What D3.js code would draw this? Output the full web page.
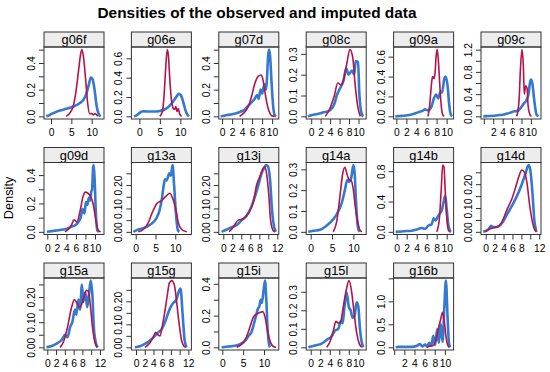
<!DOCTYPE html>
<html>
<head>
<meta charset="utf-8">
<script src="https://cdn.jsdelivr.net/npm/d3@7"></script>
<style>
body { margin: 0; background: #fff; }
svg text { font-family: "Liberation Sans", Arial, Helvetica, sans-serif; fill: #000; }
</style>
</head>
<body>
<div id="container"></div>
<script>
// panel order: left to right, top to bottom
const panelNames = ["g06f", "g06e", "g07d", "g08c", "g09a", "g09c",
    "g09d", "g13a", "g13j", "g14a", "g14b", "g14d",
    "g15a", "g15g", "g15i", "g15l", "g16b"];

const xDomains = [[-1.72, 13.02], [-1.95, 12.7], [-0.66, 11.34], [-1.06, 11.63], [-0.54, 11.38], [-0.6, 12.15],
    [-0.69, 11.89], [-1.09, 14.07], [-1.0, 12.33], [-1.05, 13.0], [-0.62, 11.38], [-1.05, 12.4],
    [-0.75, 12.92], [-1.06, 12.7], [-0.84, 13.55], [-0.95, 11.66], [-0.12, 11.72]];

const t5 = [0, 5, 10], t2 = [0, 2, 4, 6, 8, 10], t12 = [0, 2, 4, 6, 8, 10, 12];
const xTicks = [t5, t5, t2, t2, t2, t2, t2, t5, t12, t5, t2, t12, t12, t12, t5, t2, t2];
const l5 = ["0", "5", "10"], l2 = ["0", "2", "4", "6", "8", "10"], l12 = ["0", "2", "4", "6", "8", "", "12"];
const xTickLabels = [l5, l5, l2, l2, l2, ["", "2", "4", "6", "8", "10"], l2, l5, l12, l5, l2, l12, l12, l12, l5, l2,
    ["", "2", "4", "6", "8", "10"]];

const yTicks = [
    [0, 0.1, 0.2, 0.3, 0.4, 0.5], [0, 0.2, 0.4, 0.6], [0, 0.1, 0.2, 0.3, 0.4, 0.5], [0, 0.1, 0.2, 0.3],
    [0, 0.2, 0.4, 0.6], [0, 0.2, 0.4, 0.6, 0.8, 1.0, 1.2],
    [0, 0.1, 0.2, 0.3, 0.4], [0, 0.05, 0.1, 0.15, 0.2, 0.25], [0, 0.05, 0.1, 0.15, 0.2, 0.25], [0, 0.1, 0.2, 0.3],
    [0, 0.2, 0.4, 0.6, 0.8], [0, 0.05, 0.1, 0.15, 0.2, 0.25],
    [0, 0.05, 0.1, 0.15, 0.2, 0.25], [0, 0.05, 0.1, 0.15, 0.2, 0.25], [0, 0.1, 0.2, 0.3, 0.4], [0, 0.1, 0.2, 0.3],
    [0, 0.5, 1.0, 1.5]];
const yTickLabels = [
    ["0.0", "", "0.2", "", "0.4", ""], ["0.0", "0.2", "0.4", "0.6"], ["0.0", "", "0.2", "", "0.4", ""], ["0.0", "0.1", "0.2", "0.3"],
    ["0.0", "0.2", "0.4", "0.6"], ["0.0", "", "0.4", "", "0.8", "", "1.2"],
    ["0.0", "", "0.2", "", "0.4"], ["0.00", "", "0.10", "", "0.20", ""], ["0.00", "", "0.10", "", "0.20", ""], ["0.0", "0.1", "0.2", "0.3"],
    ["0.0", "", "0.4", "", "0.8"], ["0.00", "", "0.10", "", "0.20", ""],
    ["0.00", "", "0.10", "", "0.20", ""], ["0.00", "", "0.10", "", "0.20", ""], ["0.0", "", "0.2", "", "0.4"], ["0.0", "0.1", "0.2", "0.3"],
    ["0.0", "0.5", "1.0", ""]];

// observed data densities (blue), [x, density]
const observed = [
    [[-1.15,0],[-0.6,0.006],[0,0.016],[1,0.03],[2,0.042],[3,0.05],[4,0.058],[5,0.068],[6,0.08],[7,0.098],[8,0.125],[8.7,0.17],[9.3,0.24],[9.8,0.29],[10.2,0.28],[10.7,0.2],[11.2,0.08],[11.7,0.02],[12.2,0]],
    [[-1.3,0],[-0.7,0.01],[-0.1,0.03],[0.5,0.048],[1,0.052],[2,0.05],[3,0.05],[4,0.05],[5,0.055],[6,0.068],[7,0.095],[8,0.14],[9,0.2],[9.6,0.233],[10.1,0.22],[10.7,0.15],[11.2,0.07],[11.7,0.02],[12.1,0]],
    [[-0.3,0],[0.5,0.005],[1,0.01],[2,0.015],[3,0.025],[4,0.04],[4.5,0.05],[5,0.07],[5.5,0.09],[6,0.11],[6.5,0.13],[7,0.16],[7.3,0.13],[7.7,0.2],[8,0.17],[8.3,0.22],[8.6,0.24],[8.8,0.2],[9.0,0.3],[9.2,0.45],[9.4,0.5],[9.6,0.45],[9.9,0.25],[10.2,0.08],[10.5,0.01],[10.8,0]],
    [[-0.7,0],[0,0.005],[1,0.01],[2,0.015],[2.6,0.02],[3.3,0.022],[4.0,0.03],[4.9,0.06],[5.4,0.1],[6.0,0.13],[6.8,0.17],[7.4,0.23],[7.9,0.2],[8.6,0.22],[9.1,0.2],[9.4,0.265],[9.9,0.26],[10.2,0.1],[10.7,0.01],[11.0,0]],
    [[-0.2,0],[1,0.005],[2.3,0.01],[3.5,0.025],[4.3,0.04],[5.2,0.055],[5.7,0.07],[6.3,0.06],[7.0,0.1],[7.4,0.17],[7.9,0.22],[8.3,0.18],[8.8,0.25],[9.1,0.24],[9.5,0.37],[9.8,0.4],[10.2,0.3],[10.5,0.12],[10.8,0.02],[11.1,0]],
    [[-0.1,0],[1,0.005],[2,0.01],[3,0.02],[4,0.03],[5,0.05],[5.9,0.075],[6.6,0.09],[7.3,0.1],[7.9,0.16],[8.4,0.22],[9.1,0.3],[9.5,0.4],[9.8,0.6],[10.0,0.66],[10.3,0.6],[10.7,0.3],[11.2,0.03],[11.6,0]],
    [[-0.1,0],[1,0.005],[2,0.01],[3,0.015],[4,0.02],[5,0.035],[6,0.05],[6.5,0.07],[7,0.1],[7.4,0.16],[7.8,0.13],[8.1,0.21],[8.4,0.19],[8.7,0.24],[9.0,0.22],[9.2,0.28],[9.4,0.3],[9.6,0.45],[9.75,0.47],[9.95,0.35],[10.2,0.12],[10.5,0.01],[10.8,0]],
    [[-0.6,0],[0.65,0.01],[1.9,0.015],[3.6,0.03],[5.3,0.06],[6.0,0.09],[6.6,0.14],[7.0,0.19],[7.4,0.225],[7.8,0.22],[8.5,0.25],[8.9,0.24],[9.3,0.285],[9.7,0.2],[10.2,0.07],[10.6,0.01],[11,0]],
    [[-0.35,0],[0.75,0.01],[1.9,0.02],[3.0,0.03],[4.1,0.05],[5.2,0.07],[6.3,0.11],[7.0,0.15],[7.8,0.2],[8.5,0.25],[9.0,0.27],[9.5,0.285],[9.9,0.28],[10.4,0.22],[10.8,0.1],[11.3,0.02],[11.7,0]],
    [[-0.55,0],[0.6,0.005],[2.2,0.01],[3.75,0.03],[5.3,0.06],[6.5,0.1],[7.3,0.14],[8.0,0.2],[8.6,0.25],[9.0,0.24],[9.5,0.26],[10.0,0.32],[10.3,0.28],[10.6,0.15],[11.0,0.03],[11.4,0]],
    [[-0.2,0],[1,0.005],[2,0.01],[3,0.015],[4,0.03],[5.0,0.05],[5.7,0.04],[6.3,0.08],[7.0,0.1],[7.4,0.18],[7.8,0.15],[8.2,0.2],[8.7,0.25],[9.0,0.28],[9.4,0.4],[9.7,0.48],[10.0,0.3],[10.3,0.1],[10.7,0.01],[10.9,0]],
    [[-0.55,0],[0.6,0.01],[1.2,0.025],[1.7,0.02],[2.5,0.02],[3.6,0.035],[4.7,0.07],[5.9,0.11],[7.0,0.15],[8.1,0.2],[8.85,0.24],[9.6,0.28],[10.0,0.26],[10.5,0.16],[10.9,0.05],[11.4,0]],
    [[-0.2,0],[1.0,0.005],[2.1,0.015],[3.3,0.03],[4.05,0.05],[4.6,0.04],[5.2,0.08],[5.7,0.1],[6.3,0.15],[6.6,0.13],[7.1,0.19],[7.45,0.15],[7.9,0.25],[8.2,0.18],[8.65,0.22],[9.1,0.16],[9.55,0.22],[9.9,0.265],[10.3,0.2],[10.6,0.08],[11.1,0.015],[11.5,0]],
    [[-0.25,0],[0.9,0.005],[2.05,0.015],[3.2,0.03],[4.35,0.05],[5.1,0.065],[5.9,0.08],[6.65,0.11],[7.2,0.14],[7.8,0.17],[8.4,0.19],[8.95,0.2],[9.3,0.21],[9.75,0.24],[10.2,0.256],[10.7,0.14],[11.15,0.03],[11.6,0]],
    [[-0.15,0],[1.45,0.005],[3.05,0.01],[4.25,0.02],[5.45,0.04],[6.25,0.07],[7.05,0.1],[7.6,0.15],[8.1,0.2],[8.5,0.24],[8.9,0.26],[9.2,0.3],[9.5,0.28],[9.9,0.36],[10.25,0.42],[10.55,0.3],[10.9,0.1],[11.2,0.02],[11.45,0]],
    [[-0.5,0],[0.9,0.01],[2.3,0.02],[3.35,0.04],[4.4,0.06],[5.1,0.09],[5.8,0.1],[6.3,0.14],[6.7,0.13],[7.1,0.22],[7.55,0.296],[8.0,0.22],[8.4,0.2],[8.8,0.16],[9.2,0.17],[9.65,0.243],[10.0,0.22],[10.35,0.1],[10.7,0.03],[11.05,0]],
    [[0.3,0],[0.8,0.01],[2.1,0.01],[3.45,0.01],[4.4,0.03],[5.1,0.07],[5.55,0.02],[6.1,0.06],[6.5,0.02],[6.9,0.1],[7.3,0.03],[7.7,0.25],[8.05,0.05],[8.5,0.4],[8.8,0.1],[9.2,0.5],[9.55,0.12],[9.9,0.9],[10.2,1.45],[10.55,0.6],[10.8,0.1],[11.05,0]]
];

// imputed data densities (red), [x, density]
const imputed = [
    [[3.7,0],[4.5,0.02],[5.5,0.08],[6.2,0.2],[6.8,0.35],[7.3,0.47],[7.6,0.5],[8.0,0.44],[8.5,0.28],[9.0,0.1],[9.5,0.02],[10.0,0.02],[10.4,0.01],[10.8,0.02],[11.5,0]],
    [[5.0,0],[5.6,0.05],[6.0,0.2],[6.4,0.48],[6.8,0.69],[7.1,0.62],[7.4,0.4],[7.8,0.18],[8.2,0.09],[8.6,0.07],[8.9,0.1],[9.2,0.05],[9.5,0.08],[9.8,0.03],[10.3,0]],
    [[3.5,0],[4.2,0.02],[4.9,0.05],[5.5,0.1],[5.9,0.15],[6.5,0.24],[7.2,0.30],[7.8,0.31],[8.2,0.27],[8.5,0.2],[8.9,0.11],[9.2,0.06],[9.6,0.02],[9.9,0.005],[10.5,0]],
    [[3.0,0],[4.0,0.04],[4.9,0.1],[5.6,0.16],[6.3,0.15],[6.8,0.17],[7.5,0.25],[8.2,0.32],[8.8,0.28],[9.3,0.15],[9.9,0.04],[10.4,0]],
    [[6.3,0],[6.6,0.1],[7.0,0.33],[7.2,0.4],[7.5,0.38],[7.7,0.44],[7.9,0.6],[8.1,0.67],[8.3,0.6],[8.6,0.35],[8.9,0.12],[9.2,0.02],[9.5,0]],
    [[7.0,0],[7.5,0.3],[7.75,0.8],[8.1,1.2],[8.4,0.9],[8.6,0.4],[8.9,0.55],[9.2,0.5],[9.4,0.2],[9.8,0.03],[10.1,0]],
    [[3.7,0],[4.5,0.02],[5.1,0.05],[5.6,0.085],[6.2,0.07],[6.9,0.15],[7.5,0.25],[8.0,0.28],[8.9,0.26],[9.6,0.2],[10.2,0.08],[10.7,0.01],[11.2,0]],
    [[0.65,0],[1.9,0.01],[3.2,0.04],[4.0,0.075],[5.3,0.12],[6.6,0.135],[7.8,0.155],[8.6,0.165],[9.3,0.145],[10.2,0.09],[10.75,0.04],[11.6,0.01],[12.9,0]],
    [[1.3,0],[2.2,0.02],[3.3,0.05],[4.4,0.055],[5.6,0.08],[6.7,0.13],[7.4,0.2],[8.2,0.24],[8.8,0.27],[9.2,0.278],[9.6,0.25],[10.1,0.16],[10.5,0.05],[11.1,0.005],[11.5,0]],
    [[5.3,0],[6.1,0.05],[6.9,0.18],[7.5,0.28],[8.0,0.31],[8.6,0.27],[9.0,0.25],[9.5,0.245],[10.0,0.2],[10.45,0.12],[11.0,0.05],[11.5,0.01],[12,0]],
    [[8.0,0],[8.5,0.15],[8.9,0.55],[9.2,0.88],[9.45,0.86],[9.7,0.55],[10.0,0.2],[10.3,0.03],[10.6,0]],
    [[-0.15,0],[0.6,0.01],[1.35,0.015],[2.5,0.02],[3.6,0.04],[4.7,0.09],[5.9,0.14],[6.6,0.18],[7.4,0.23],[8.1,0.26],[8.7,0.25],[9.3,0.2],[9.8,0.12],[10.5,0.04],[11.1,0.005],[11.4,0]],
    [[2.9,0],[3.65,0.02],[4.6,0.08],[5.55,0.16],[6.15,0.19],[6.6,0.18],[7.3,0.16],[7.8,0.17],[8.35,0.2],[8.96,0.227],[9.4,0.22],[9.85,0.16],[10.3,0.08],[10.85,0.02],[11.4,0]],
    [[2.05,0],[3.2,0.02],[3.97,0.045],[4.5,0.065],[4.95,0.055],[5.5,0.05],[6.1,0.1],[6.65,0.16],[7.2,0.23],[7.65,0.28],[8.2,0.29],[8.8,0.27],[9.3,0.2],[9.9,0.1],[10.45,0.03],[11.0,0.005],[11.4,0]],
    [[3.45,0],[4.65,0.02],[5.7,0.06],[6.65,0.13],[7.45,0.19],[8.25,0.21],[9.05,0.22],[9.7,0.225],[10.25,0.19],[10.8,0.11],[11.45,0.04],[12.25,0.005],[12.9,0]],
    [[3.35,0],[4.05,0.03],[4.75,0.09],[5.3,0.14],[5.8,0.13],[6.3,0.14],[6.85,0.22],[7.4,0.3],[8.05,0.36],[8.6,0.3],[9.1,0.19],[9.65,0.08],[10.2,0.02],[10.7,0]],
    [[6.4,0],[7.05,0.03],[7.7,0.04],[8.2,0.15],[8.7,0.4],[9.15,0.6],[9.55,0.76],[9.9,0.55],[10.2,0.25],[10.55,0.05],[10.85,0]]
];

function chart() {
    var width = 550, height = 372;
    var left0 = 44, colStep = 87.4, top0 = 32, rowStep = 115.5;
    var pw = 60, ph = 72, stripH = 15;
    var ink = "#333";

    const svg = d3.select("div#container").append("svg")
        .attr("width", width)
        .attr("height", height);

    svg.append("text")
        .attr("x", 257)
        .attr("y", 18)
        .attr("text-anchor", "middle")
        .style("font-size", "15.4px")
        .style("font-weight", "bold")
        .text("Densities of the observed and imputed data");

    svg.append("text")
        .attr("transform", "translate(13,198) rotate(-90)")
        .attr("text-anchor", "middle")
        .style("font-size", "12.8px")
        .text("Density");

    const defs = svg.append("defs");

    panelNames.forEach((name, i) => {
        var col = i % 6, row = Math.floor(i / 6);
        var x0 = left0 + col * colStep;
        var y0 = top0 + row * rowStep + stripH;

        const all = observed[i].concat(imputed[i]);
        const ymax = d3.max(all, d => d[1]);

        const x = d3.scaleLinear().domain(xDomains[i]).range([x0, x0 + pw]);
        const y = d3.scaleLinear().domain([-0.04 * ymax, 1.04 * ymax]).range([y0 + ph, y0]);

        const g = svg.append("g").attr("class", "panel");

        // strip
        g.append("rect")
            .attr("x", x0).attr("y", y0 - stripH)
            .attr("width", pw).attr("height", stripH)
            .attr("fill", "#ededed")
            .attr("stroke", ink);
        g.append("text")
            .attr("x", x0 + pw / 2)
            .attr("y", y0 - 3)
            .attr("text-anchor", "middle")
            .style("font-size", "12.8px")
            .text(name);

        // x axis
        const xl = new Map(xTicks[i].map((v, j) => [v, xTickLabels[i][j]]));
        const xa = g.append("g")
            .attr("transform", "translate(0," + (y0 + ph) + ")")
            .call(d3.axisBottom(x)
                .tickValues(xTicks[i].filter(v => v >= x.domain()[0] && v <= x.domain()[1]))
                .tickFormat(v => xl.get(v))
                .tickSize(5)
                .tickPadding(5));
        xa.select(".domain").remove();
        xa.selectAll("line").attr("stroke", ink);
        xa.selectAll("text").style("font-size", "10.3px").attr("fill", "#000");

        // y axis, labels turned like R
        const yl = new Map(yTicks[i].map((v, j) => [v, yTickLabels[i][j]]));
        const ya = g.append("g")
            .attr("transform", "translate(" + x0 + ",0)")
            .call(d3.axisLeft(y)
                .tickValues(yTicks[i].filter(v => v <= y.domain()[1]))
                .tickFormat(v => yl.get(v))
                .tickSize(5));
        ya.select(".domain").remove();
        ya.selectAll("line").attr("stroke", ink);
        ya.selectAll("text")
            .attr("transform", "rotate(-90)")
            .attr("x", 0)
            .attr("y", -9)
            .attr("dy", 0)
            .attr("text-anchor", "middle")
            .attr("fill", "#000")
            .style("font-size", "10.3px");

        defs.append("clipPath").attr("id", "clip" + i)
            .append("rect").attr("x", x0).attr("y", y0).attr("width", pw).attr("height", ph);

        const line = d3.line()
            .x(d => x(d[0]))
            .y(d => y(d[1]))
            .curve(d3.curveMonotoneX);

        const lines = g.append("g").attr("clip-path", "url(#clip" + i + ")");
        lines.append("path")
            .attr("d", line(observed[i]))
            .attr("fill", "none")
            .attr("stroke", "#3479cf")
            .attr("stroke-width", 2.6)
            .attr("stroke-linejoin", "round");
        lines.append("path")
            .attr("d", line(imputed[i]))
            .attr("fill", "none")
            .attr("stroke", "#b5124b")
            .attr("stroke-width", 1.6)
            .attr("stroke-linejoin", "round");

        // panel box
        g.append("rect")
            .attr("x", x0).attr("y", y0)
            .attr("width", pw).attr("height", ph)
            .attr("fill", "none")
            .attr("stroke", ink);
    });
}

chart();
</script>
</body>
</html>
